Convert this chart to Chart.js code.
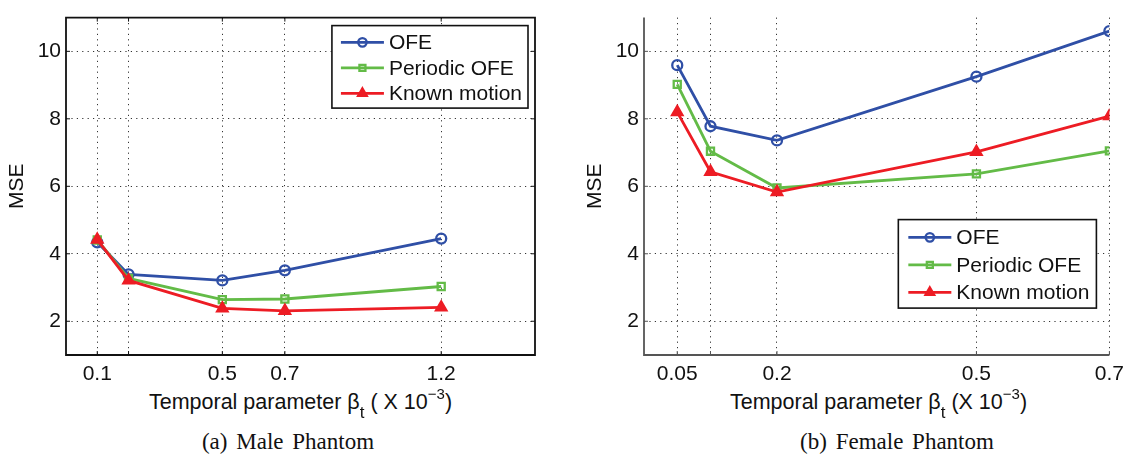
<!DOCTYPE html>
<html><head><meta charset="utf-8">
<script src="https://cdn.jsdelivr.net/npm/chart.js@4.4.1/dist/chart.umd.min.js"></script>
<style>
html,body{margin:0;padding:0;background:#fff;}
body{width:1131px;height:460px;position:relative;overflow:hidden;font-family:"Liberation Sans",Arial,sans-serif;color:#111;}
canvas{position:absolute;top:0;}
.xt{position:absolute;top:390px;font-size:21.5px;line-height:25px;text-align:center;white-space:nowrap;color:#111;}
.sub{position:relative;top:9px;font-size:17px;}
.sup{position:relative;top:-10px;font-size:15px;}
.cap{position:absolute;top:429px;width:400px;font-family:"Liberation Serif","Times New Roman",serif;font-size:23px;line-height:26px;text-align:center;white-space:nowrap;color:#111;word-spacing:3px;}
</style></head>
<body>
<canvas id="male" width="565" height="390" style="left:0px;width:565px;height:390px"></canvas>
<canvas id="female" width="553" height="390" style="left:578px;width:553px;height:390px"></canvas>
<div class="xt" style="left:0px;width:601px">Temporal parameter β<span class="sub">t</span> ( X 10<span class="sup">−3</span>)</div>
<div class="xt" style="left:678px;width:401px">Temporal parameter β<span class="sub">t</span> (X 10<span class="sup">−3</span>)</div>
<div class="cap" style="left:88px">(a) Male Phantom</div>
<div class="cap" style="left:697px">(b) Female Phantom</div>
<script>
// ---- data ----
const seriesNames = ['OFE', 'Periodic OFE', 'Known motion'];
const yTicks = [2, 4, 6, 8, 10];

const maleBeta = [0.1, 0.2, 0.5, 0.7, 1.2];
const maleTickLabels = ['0.1', '', '0.5', '0.7', '1.2'];
const maleOFE = [4.34, 3.39, 3.21, 3.51, 4.45];
const malePeriodic = [4.41, 3.27, 2.64, 2.66, 3.03];
const maleKnown = [4.42, 3.21, 2.38, 2.31, 2.41];

const femaleBeta = [0.05, 0.1, 0.2, 0.5, 0.7];
const femaleTickLabels = ['0.05', '', '0.2', '0.5', '0.7'];
const femaleOFE = [9.59, 7.78, 7.36, 9.25, 10.6];
const femalePeriodic = [9.02, 7.04, 5.95, 6.37, 7.05];
const femaleKnown = [8.2, 6.43, 5.83, 7.02, 8.08];

// ---- styles ----
const styles = [
  {color:'#2f4fa6', pointStyle:'circle', radius:5, pbw:2.3, fill:'rgba(255,255,255,0)', order:3},
  {color:'#63bb47', pointStyle:'rect', radius:5, pbw:2.3, fill:'rgba(255,255,255,0)', order:2},
  {color:'#ed1c24', pointStyle:'triangle', radius:6.5, pbw:1.8, fill:'#ed1c24', order:1}
];
const FONT = '"Liberation Sans", Arial, sans-serif';
const TEXT = '#111';

function drawMarker(ctx, style, r, x, y) {
  ctx.beginPath();
  if (style === 'circle') ctx.arc(x, y, r, 0, Math.PI * 2);
  else if (style === 'rect') { const s = r * Math.SQRT1_2; ctx.rect(x - s, y - s, 2 * s, 2 * s); }
  else if (style === 'triangle') {
    let a = 0;
    ctx.moveTo(x + Math.sin(a) * r, y - Math.cos(a) * r);
    a += 2 * Math.PI / 3; ctx.lineTo(x + Math.sin(a) * r, y - Math.cos(a) * r);
    a += 2 * Math.PI / 3; ctx.lineTo(x + Math.sin(a) * r, y - Math.cos(a) * r);
    ctx.closePath();
  }
  ctx.fill(); ctx.stroke();
}

const framePlugin = {
  id: 'frame',
  beforeDatasetsDraw(chart, args, o) {
    const {ctx, chartArea: ca, scales} = chart;
    ctx.save();
    ctx.strokeStyle = o.color;
    ctx.lineWidth = 1;
    ctx.beginPath();
    const L = 4;
    scales.x.ticks.forEach(t => {
      const px = scales.x.getPixelForValue(t.value);
      ctx.moveTo(px, ca.bottom); ctx.lineTo(px, ca.bottom - L);
      if (o.box) { ctx.moveTo(px, ca.top); ctx.lineTo(px, ca.top + L); }
    });
    scales.y.ticks.forEach(t => {
      const py = scales.y.getPixelForValue(t.value);
      ctx.moveTo(ca.left, py); ctx.lineTo(ca.left + L, py);
      if (o.box) { ctx.moveTo(ca.right, py); ctx.lineTo(ca.right - L, py); }
    });
    ctx.stroke();
    ctx.lineWidth = o.width;
    ctx.beginPath();
    if (o.box) ctx.rect(ca.left, ca.top, ca.right - ca.left, ca.bottom - ca.top);
    else { ctx.moveTo(ca.left, ca.top); ctx.lineTo(ca.left, ca.bottom); ctx.lineTo(ca.right, ca.bottom); }
    ctx.stroke();
    ctx.restore();
  }
};

const legendPlugin = {
  id: 'boxLegend',
  afterDraw(chart, args, o) {
    const {ctx, chartArea: ca} = chart;
    const ds = chart.data.datasets;
    ctx.save();
    ctx.font = o.fontSize + 'px ' + FONT;
    const tw = Math.max(...ds.map(d => ctx.measureText(d.label).width));
    const w = o.padLeft + o.lineLen + o.gap + tw + o.padRight;
    const h = o.padTop + o.rowH * ds.length + o.padBottom;
    const x0 = ca.right - o.right - w, y0 = ca.top + o.top;
    ctx.fillStyle = '#fff'; ctx.fillRect(x0, y0, w, h);
    ctx.strokeStyle = '#111'; ctx.lineWidth = 1.6; ctx.strokeRect(x0, y0, w, h);
    ds.forEach((d, i) => {
      const cy = y0 + o.padTop + o.rowH * (i + 0.5);
      const lx = x0 + o.padLeft;
      ctx.strokeStyle = d.borderColor; ctx.lineWidth = d.borderWidth;
      ctx.beginPath(); ctx.moveTo(lx, cy); ctx.lineTo(lx + o.lineLen, cy); ctx.stroke();
      ctx.fillStyle = d.pointBackgroundColor; ctx.strokeStyle = d.pointBorderColor; ctx.lineWidth = d.pointBorderWidth;
      drawMarker(ctx, d.pointStyle, d.pointRadius * 0.85, lx + o.lineLen / 2, cy);
      ctx.fillStyle = TEXT; ctx.textBaseline = 'middle'; ctx.textAlign = 'left';
      ctx.fillText(d.label, lx + o.lineLen + o.gap, cy + 1);
    });
    ctx.restore();
  }
};

function makeChart(id, xs, xTickLabels, xMax, series, cfg) {
  const datasets = series.map((vals, i) => ({
    label: seriesNames[i],
    data: xs.map((x, j) => ({x: x, y: vals[j]})),
    borderColor: styles[i].color,
    backgroundColor: styles[i].color,
    borderWidth: 2.8,
    pointStyle: styles[i].pointStyle,
    pointRadius: styles[i].radius,
    pointHoverRadius: styles[i].radius,
    pointBorderWidth: styles[i].pbw,
    pointBorderColor: styles[i].color,
    pointBackgroundColor: styles[i].fill,
    order: styles[i].order,
    tension: 0,
    fill: false
  }));
  return new Chart(document.getElementById(id), {
    type: 'line',
    data: {datasets},
    plugins: [framePlugin, legendPlugin],
    options: {
      responsive: false,
      animation: false,
      layout: {padding: {top: 5, right: cfg.padRight, left: 0, bottom: 0}},
      scales: {
        x: {
          type: 'linear', min: 0, max: xMax,
          afterBuildTicks: s => { s.ticks = xs.map(v => ({value: v})); },
          afterFit: s => { s.height = 35; },
          ticks: {
            autoSkip: false, maxRotation: 0, padding: 7, color: TEXT,
            font: {family: FONT, size: 21},
            callback: v => { const k = xs.indexOf(v); return k >= 0 ? xTickLabels[k] : ''; }
          },
          grid: {color: cfg.gridColor, lineWidth: 1, drawTicks: false},
          border: {display: false, dash: [1.2, 4.2]}
        },
        y: {
          type: 'linear', min: 1, max: 11,
          afterBuildTicks: s => { s.ticks = yTicks.map(v => ({value: v})); },
          afterFit: s => { s.width = 66; },
          ticks: {padding: 5, color: TEXT, font: {family: FONT, size: 21}},
          grid: {color: cfg.gridColor, lineWidth: 1, drawTicks: false},
          border: {display: false, dash: [1.2, 4.2]},
          title: {display: true, text: 'MSE', color: TEXT, font: {family: FONT, size: 21}, padding: {top: 5, bottom: 0}}
        }
      },
      plugins: {
        legend: {display: false},
        tooltip: {enabled: false},
        frame: cfg.frame,
        boxLegend: cfg.legend
      }
    }
  });
}

makeChart('male', maleBeta, maleTickLabels, 1.5, [maleOFE, malePeriodic, maleKnown], {
  padRight: 30, gridColor: '#333',
  frame: {box: true, color: '#111', width: 1.8},
  legend: {right: 7, top: 8, fontSize: 21, padLeft: 9, lineLen: 43, gap: 5, padRight: 6, padTop: 4, padBottom: 2, rowH: 25.5}
});
makeChart('female', femaleBeta, femaleTickLabels, 0.7, [femaleOFE, femalePeriodic, femaleKnown], {
  padRight: 18, gridColor: '#333',
  frame: {box: false, color: '#555', width: 1.8},
  legend: {right: 13, top: 202, fontSize: 21, padLeft: 10, lineLen: 43, gap: 5, padRight: 7, padTop: 4, padBottom: 2, rowH: 27.5}
});
</script>
</body></html>
